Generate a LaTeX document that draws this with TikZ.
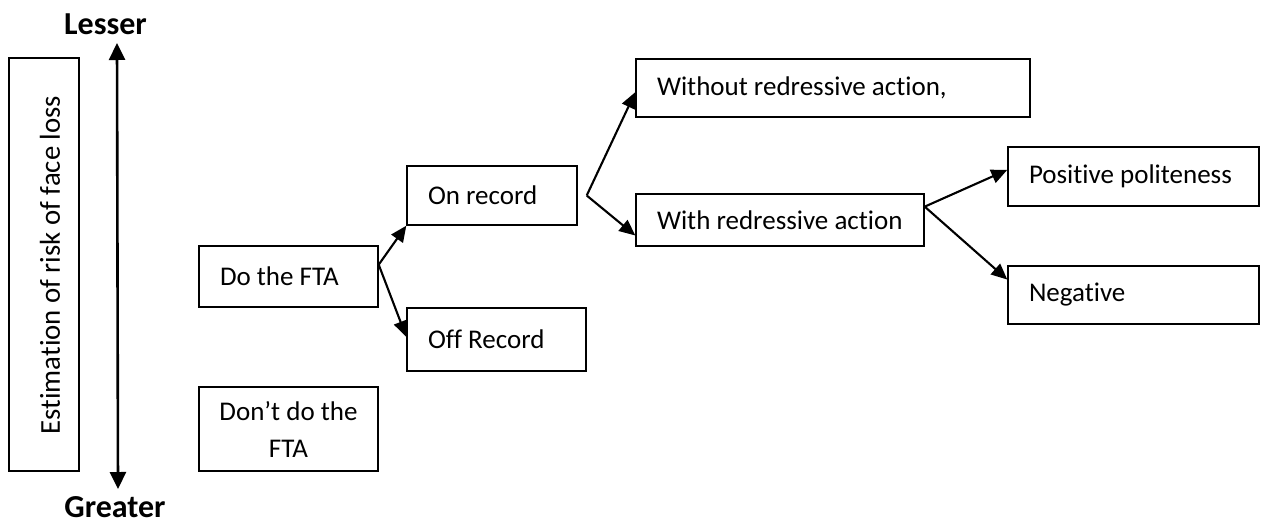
\documentclass[tikz,border=0pt]{standalone}
\usepackage{fontspec}
\setmainfont{Carlito}[Ligatures={NoCommon}]
\usetikzlibrary{arrows.meta,calc}
\begin{document}
\begin{tikzpicture}[x=0.5pt,y=-0.5pt,
  every node/.style={font=\fontsize{13.5}{18.5}\selectfont},
  bx/.style={draw,line width=0.7pt,inner xsep=10.5pt,inner ysep=0pt,align=flush left},
  cbx/.style={draw,line width=0.7pt,inner sep=0pt,align=flush center},
  conn/.style={line width=1.05pt,-{Triangle[length=8pt,width=7pt]}},
  riskaxis/.style={line width=1.3pt,{Triangle[length=8.5pt,width=8pt]}-{Triangle[length=8.5pt,width=8pt]}},
  lbl/.style={font=\fontsize{16}{19}\selectfont\bfseries}]
\useasboundingbox (0,0) rectangle (1267,524);
% left scale
\node[cbx,minimum width=35pt,minimum height=206.5pt] (est) at (44,264.5) {};
\node[rotate=90,font=\fontsize{14.4}{17}\selectfont] (esttxt) at (50,265) {Estimation of risk of face loss};
\node[lbl] (lesser) at (105.5,24) {Lesser};
\node[lbl] (greater) at (115,507) {Greater};
\coordinate (top) at (117,43);
\coordinate (bot) at (118,489);
\draw[riskaxis] (top) -- (bot);
% boxes
\node[bx,minimum height=30.5pt,text width=68.5pt] (dofta) at (288.5,276.5) {Do the FTA};
\node[cbx,minimum width=89.5pt,minimum height=42pt] (dont) at (288.5,429) {Don’t do the\\FTA};
\node[bx,minimum height=29.5pt,text width=64pt] (onrec) at (492,195.5) {On record};
\node[bx,minimum height=31.5pt,text width=68.5pt] (offrec) at (496.5,339.5) {Off Record};
\node[bx,minimum height=29pt,text width=176pt] (wo) at (833,88) {Without redressive action,};
\node[bx,minimum height=26pt,text width=123pt] (with) at (780,220) {With redressive action};
\node[bx,minimum height=29.5pt,text width=104.5pt] (pos) at (1133.5,176.5) {Positive politeness};
\node[bx,minimum height=29pt,text width=104.5pt] (neg) at (1133.5,295) {Negative};
% connectors
\coordinate (b1) at ($(dofta.north east)!0.31!(dofta.south east)$);
\draw[conn] (b1) -- (onrec.south west);
\draw[conn] (b1) -- ($(offrec.north west)!0.46!(offrec.south west)$);
\coordinate (b2) at ($(onrec.east)+(9,0)$);
\draw[conn] (b2) -- ($(wo.north west)!0.57!(wo.south west)$);
\draw[conn] (b2) -- ($(with.north west)!0.79!(with.south west)$);
\coordinate (b3) at ($(with.north east)!0.25!(with.south east)$);
\draw[conn] (b3) -- ($(pos.north west)!0.39!(pos.south west)$);
\draw[conn] (b3) -- ($(neg.north west)!0.24!(neg.south west)$);
\end{tikzpicture}
\end{document}
